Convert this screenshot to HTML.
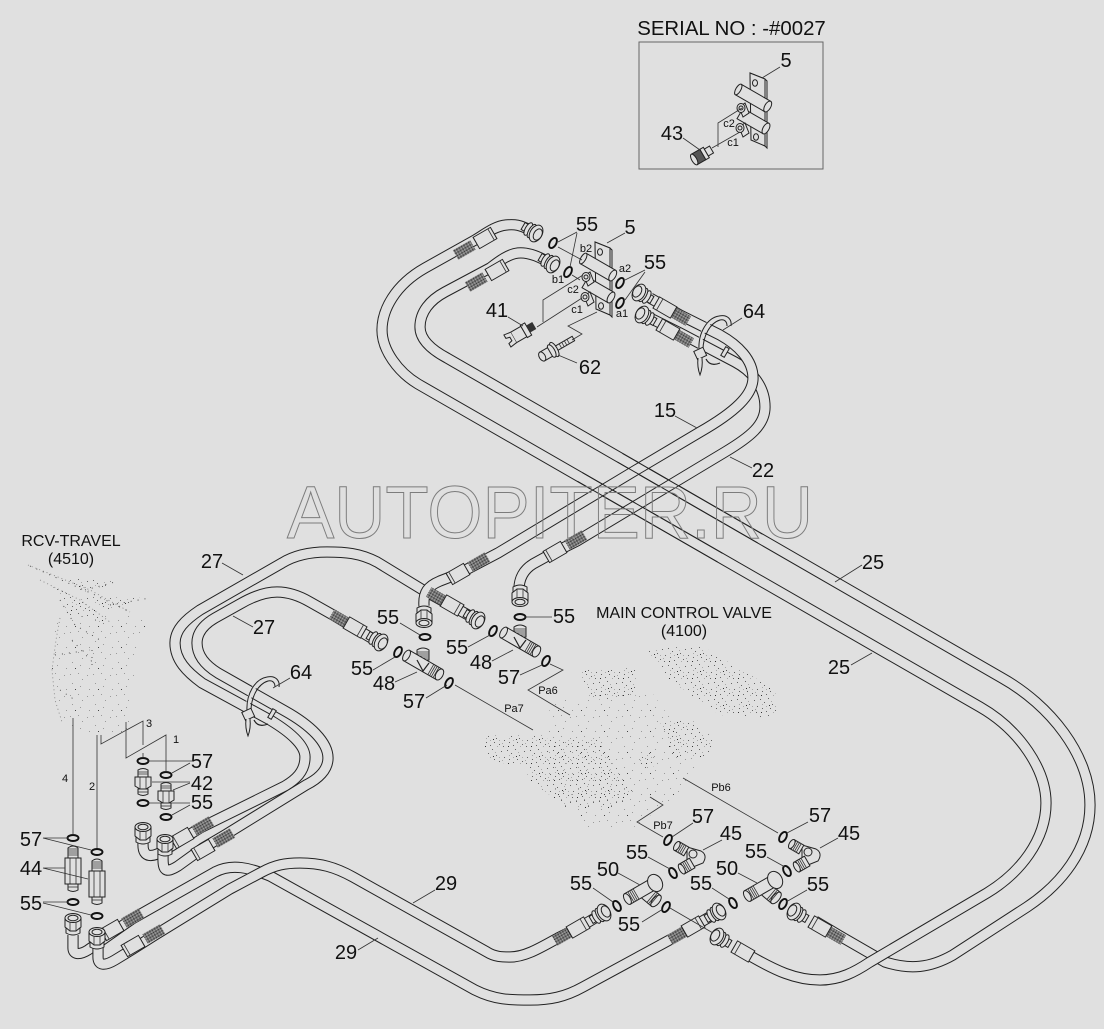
<!DOCTYPE html>
<html><head><meta charset="utf-8"><style>
html,body{margin:0;padding:0;background:#e0e0e0}
svg{display:block}
text{font-family:"Liberation Sans",sans-serif;fill:#111;text-anchor:middle}
.n{font-size:20px}
.s{font-size:11px}
.m{font-size:16px}
.l{fill:none;stroke:#333;stroke-width:.8}
.h1{fill:none;stroke:#222;stroke-width:11.2}
.h2{fill:none;stroke:#e0e0e0;stroke-width:9.2}
.r{fill:none;stroke:#111;stroke-width:1.9}
.p{fill:#e0e0e0;stroke:#222;stroke-width:1}
.d{fill:none;stroke:#888;stroke-width:.9;stroke-dasharray:1 3}
.d2{fill:none;stroke:#444;stroke-width:.9;stroke-dasharray:1 6}
</style></head><body>
<svg width="1104" height="1029" viewBox="0 0 1104 1029" xmlns="http://www.w3.org/2000/svg">
<defs>
<pattern id="kn" width="2" height="2" patternUnits="userSpaceOnUse"><rect width="2" height="2" fill="#bbb"/><rect width="1" height="1" fill="#222"/><rect x="1" y="1" width="1" height="1" fill="#333"/></pattern>
<pattern id="sp" width="23" height="17" patternUnits="userSpaceOnUse">
<g fill="#666"><rect x="1" y="2" width="1" height="1"/><rect x="5" y="5" width="1" height="1"/><rect x="9" y="1" width="1" height="1"/><rect x="13" y="7" width="1" height="1"/><rect x="18" y="3" width="1" height="1"/><rect x="21" y="9" width="1" height="1"/><rect x="3" y="11" width="1" height="1"/><rect x="7" y="14" width="1" height="1"/><rect x="11" y="11" width="1" height="1"/><rect x="16" y="13" width="1" height="1"/><rect x="20" y="15" width="1" height="1"/></g>
<g fill="#aaa"><rect x="3" y="7" width="1" height="1"/><rect x="7" y="9" width="1" height="1"/><rect x="12" y="4" width="1" height="1"/><rect x="16" y="9" width="1" height="1"/><rect x="19" y="12" width="1" height="1"/><rect x="14" y="15" width="1" height="1"/></g>
<g fill="#333"><rect x="10" y="8" width="1" height="1"/><rect x="2" y="15" width="1" height="1"/></g>
</pattern>
<pattern id="sp2" width="23" height="21" patternUnits="userSpaceOnUse">
<g fill="#9a9a9a"><rect x="1" y="2" width="1" height="1"/><rect x="9" y="1" width="1" height="1"/><rect x="13" y="7" width="1" height="1"/><rect x="18" y="3" width="1" height="1"/><rect x="3" y="11" width="1" height="1"/><rect x="11" y="14" width="1" height="1"/><rect x="20" y="17" width="1" height="1"/></g>
<g fill="#444"><rect x="6" y="17" width="1" height="1"/></g>
</pattern>
<g id="fe">
<rect x="-10" y="-6.5" width="20" height="13" class="p"/><line x1="-7" y1="-6.5" x2="-7" y2="6.5" class="l"/>
<rect x="14" y="-5.5" width="20" height="11" fill="url(#kn)"/>
</g>
<g id="ne">
<rect x="-8" y="-4" width="6" height="8" class="p"/>
<ellipse cx="-2" rx="3" ry="7" class="p"/><ellipse cx="2" rx="3" ry="7.5" class="p"/>
<ellipse cx="7" rx="6" ry="9" class="p"/><ellipse cx="9" rx="4" ry="6" class="p" stroke-width="1.4"/>
</g>
<g id="he">
<rect x="-50" y="-5.5" width="17" height="11" fill="url(#kn)"/>
<rect x="-33" y="-6.5" width="20" height="13" class="p"/><line x1="-17" y1="-6.5" x2="-17" y2="6.5" class="l"/>
<use href="#ne"/>
</g>
<g id="he2">
<rect x="-33" y="-6.5" width="20" height="13" class="p"/><line x1="-17" y1="-6.5" x2="-17" y2="6.5" class="l"/>
<use href="#ne"/>
</g>
<g id="hn">
<path d="M-7,5 L-7,10 Q0,14 7,10 L7,5 Z" class="p"/>
<path d="M-8,-5 L-8,4 L-3,8 L3,8 L8,4 L8,-5 Z" class="p"/>
<line x1="-3" y1="-2" x2="-3" y2="8" class="l"/><line x1="3" y1="-2" x2="3" y2="8" class="l"/>
<ellipse cy="-5" rx="8" ry="4.5" class="p"/><ellipse cy="-5" rx="5" ry="2.8" class="p"/>
</g>
<g id="ad44">
<path d="M-5,-22 Q0,-26 5,-22 L5,-12 L-5,-12 Z" class="p"/>
<path d="M-5,-21 H5 M-5,-19 H5 M-5,-17 H5 M-5,-15 H5" class="l"/>
<rect x="-8" y="-12" width="16" height="26" class="p"/><path d="M-3,-12 V14 M3,-12 V14" class="l"/>
<path d="M-5,14 H5 V20 Q0,23 -5,20 Z" class="p"/><path d="M-5,17 H5" class="l"/>
</g>
<g id="ad42">
<path d="M-5,-13 Q0,-16 5,-13 L5,-6 L-5,-6 Z" class="p"/><path d="M-5,-11 H5 M-5,-9 H5" class="l"/>
<path d="M-8,-6 L8,-6 L8,3 L3,6 L-3,6 L-8,3 Z" class="p"/><path d="M-3,-6 V6 M3,-6 V6" class="l"/>
<path d="M-5,6 H5 V11 Q0,14 -5,11 Z" class="p"/><path d="M-5,9 H5" class="l"/>
</g>
<g id="t48">
<path d="M-6,-5 V-15 Q0,-19 6,-15 V-5 Z" class="p"/><path d="M-6,-13 H6 M-6,-11 H6 M-6,-9 H6 M-6,-7 H6" class="l"/>
<g transform="rotate(30)">
<rect x="-19" y="-6" width="38" height="12" class="p"/>
<ellipse cx="-19" rx="3" ry="6" class="p"/><ellipse cx="19" rx="3.5" ry="6" class="p"/>
<path d="M9,-6 V6 M11,-6 V6 M13,-6 V6 M15,-6 V6" class="l"/>
</g>
<path d="M-6,-5 L0,6 L6,-2" fill="#e0e0e0" stroke="#222" stroke-width="1.2"/>
</g>
<g id="t50">
<path transform="rotate(30)" d="M-4,0 H8 M-4,6 H12 V-2" class="l"/>
<g transform="rotate(40) translate(9,0)"><rect x="-6" y="-7" width="14" height="14" class="p"/><ellipse cx="8" rx="3.5" ry="7" class="p"/><path d="M2,-7 V7 M4,-7 V7 M6,-7 V7" class="l"/></g>
<g transform="rotate(-30)">
<rect x="-18" y="-6" width="30" height="12" class="p"/><ellipse cx="-18" rx="3" ry="6" class="p"/>
<path d="M-14,-6 V6 M-12,-6 V6 M-10,-6 V6 M-8,-6 V6" class="l"/>
<ellipse cx="14" rx="7" ry="9" class="p"/>
</g>
</g>
<g id="e45">
<path d="M-8,-10 L6,-6 Q13,-2 8,6 L-2,10 L-8,4 Z" class="p"/>
<ellipse cx="-2" cy="-3" rx="4" ry="4" class="p"/>
<g transform="translate(-13,-8) rotate(30)"><rect x="-6" y="-5" width="11" height="10" class="p"/><path d="M-4,-5 V5 M-2,-5 V5 M0,-5 V5 M2,-5 V5" class="l"/><ellipse cx="-6" rx="2.5" ry="5" class="p"/></g>
<g transform="translate(-8,9) rotate(-30)"><rect x="-6" y="-5.5" width="12" height="11" class="p"/><path d="M-4,-5.5 V5.5 M-2,-5.5 V5.5 M0,-5.5 V5.5 M2,-5.5 V5.5" class="l"/><ellipse cx="-6" rx="2.5" ry="5.5" class="p"/></g>
</g>
<g id="bk">
<path d="M595,242 L610,248 L612,250 L612,317 L610,315 L597,309 Z" class="p"/>
<path d="M595,242 L610,248 L610,315 L596,309 Z" class="p"/>
<ellipse cx="600" cy="252" rx="2.5" ry="3.2" class="p"/><ellipse cx="601" cy="306" rx="2.5" ry="3.2" class="p"/>
<g transform="translate(598,267) rotate(30)"><rect x="-17" y="-6" width="34" height="12" class="p"/><ellipse cx="-17" rx="2.5" ry="6" class="p"/><ellipse cx="17" rx="3" ry="6" class="p"/></g>
<g transform="translate(598,290) rotate(30)"><rect x="-15" y="-6" width="30" height="12" class="p"/><ellipse cx="15" rx="3" ry="6" class="p"/></g>
<path d="M584,276 L590,272 L594,282 L588,286 Z" class="p"/><ellipse cx="586" cy="277" rx="4" ry="4.5" class="p"/><circle cx="586" cy="277" r="2" class="p"/>
<path d="M584,296 L590,292 L594,302 L588,306 Z" class="p"/><ellipse cx="585" cy="297" rx="4" ry="4.5" class="p"/><circle cx="585" cy="297" r="2" class="p"/>
</g>
<g id="cl">
<path d="M0,25 C-1,8 8,-6 20,-8 C28,-9 30,-4 30,0" fill="none" stroke="#e0e0e0" stroke-width="4"/>
<path d="M-1,25 C-2,8 7,-7 19,-9 C28,-11 32,-5 31,1 M3,25 C3,11 10,-2 20,-5 C25,-6 27,-3 27,1" fill="none" stroke="#222" stroke-width="1"/>
<rect x="-5" y="24" width="10" height="9" class="p" transform="rotate(-25 0 28)"/>
<path d="M-2,33 Q-3,42 0,50 Q3,42 2,33" class="p"/>
<path d="M6,34 Q10,42 20,38" fill="none" stroke="#222" stroke-width="1.2"/>
</g>
</defs>
<rect width="1104" height="1029" fill="#e0e0e0"/>

<!-- ghost parts: RCV -->
<g fill="url(#sp2)">
<path d="M55,620 L100,612 L148,617 L135,660 L130,730 L85,738 L60,715 L52,670 Z"/>
</g>
<g fill="url(#sp)">
<path d="M67,578 L120,582 L83,592 Z"/><path d="M83,597 L148,598 L107,610 Z"/>
<path d="M50,585 L85,600 L110,625 L70,615 Z"/>
</g>
<path class="d" d="M28,565 L90,590 L130,612 M40,580 L80,600 L110,622 M60,618 L56,640 L52,670 L55,700 L62,722"/>
<path class="d2" d="M30,566 L95,595 L130,612 M85,590 L115,582 M110,605 L150,598 M60,600 L75,625 L100,640 M72,640 L95,665 M55,655 L90,650 M60,690 L75,700 M92,650 L92,670"/>
<!-- ghost parts: MCV -->
<g fill="url(#sp)">
<path d="M580,670 L637,668 L637,697 L590,700 Z"/>
<path d="M647,650 L700,645 L775,690 L777,718 L720,715 L670,680 Z"/>
<path d="M660,722 L690,718 L715,740 L712,757 L672,757 Z"/>
<path d="M480,735 L545,735 L547,773 L490,760 Z"/>
<path d="M513,740 L600,740 L632,790 L620,807 L565,807 L530,780 Z"/>
<path d="M637,752 L655,752 L653,768 L640,768 Z"/>
<path d="M563,780 L615,780 L613,808 L570,808 Z"/>
</g>
<g fill="url(#sp2)">
<path d="M550,700 L650,690 L700,760 L685,790 L630,830 L590,830 L545,790 Z"/>
</g>

<!-- hoses -->
<path class="h1" d="M73,935 L73,948 C73,955 80,955 88,950 L112,933 L132,919 L215,872 C232,863 250,868 270,876 L475,990 C495,1000 510,1000 530,1000 C550,1000 565,997 583,987 L675,937 L713,915"/>
<path class="h2" d="M73,935 L73,948 C73,955 80,955 88,950 L112,933 L132,919 L215,872 C232,863 250,868 270,876 L475,990 C495,1000 510,1000 530,1000 C550,1000 565,997 583,987 L675,937 L713,915"/>
<path class="h1" d="M98,945 L98,957 C98,966 105,966 115,960 L133,949 L155,935 L230,889 L262,872 C275,865 285,863 300,863 C320,863 335,867 353,877 L487,952 C495,957 502,957 510,957 C525,957 540,948 558,938 L580,927 L600,915"/>
<path class="h2" d="M98,945 L98,957 C98,966 105,966 115,960 L133,949 L155,935 L230,889 L262,872 C275,865 285,863 300,863 C320,863 335,867 353,877 L487,952 C495,957 502,957 510,957 C525,957 540,948 558,938 L580,927 L600,915"/>

<path class="h1" d="M470,616 L423,590 L377,562 C360,553 345,552 327,552 C310,552 295,555 282,563 L200,610 C185,620 175,630 175,643 C175,660 187,672 202,683 L270,720 C290,732 305,745 305,757 C305,772 295,780 285,786 L200,828 L165,850 C152,858 143,858 143,845 L143,835"/>
<path class="h2" d="M470,616 L423,590 L377,562 C360,553 345,552 327,552 C310,552 295,555 282,563 L200,610 C185,620 175,630 175,643 C175,660 187,672 202,683 L270,720 C290,732 305,745 305,757 C305,772 295,780 285,786 L200,828 L165,850 C152,858 143,858 143,845 L143,835"/>
<path class="h1" d="M378,642 L333,615 L310,602 C298,595 288,592 277,592 C265,592 252,597 240,604 L215,618 C203,625 197,633 197,643 C197,655 205,665 218,673 L285,711 C310,725 328,742 328,758 C328,770 318,779 306,785 L225,835 L203,848 L178,866 C165,874 163,870 163,858 L163,850"/>
<path class="h2" d="M378,642 L333,615 L310,602 C298,595 288,592 277,592 C265,592 252,597 240,604 L215,618 C203,625 197,633 197,643 C197,655 205,665 218,673 L285,711 C310,725 328,742 328,758 C328,770 318,779 306,785 L225,835 L203,848 L178,866 C165,874 163,870 163,858 L163,850"/>

<path class="h1" d="M550,263 C540,257 528,252 518,253 C508,254 498,262 490,268 L445,292 C430,300 420,312 420,327 C420,340 432,350 447,358 L1002,678 C1050,705 1090,755 1090,805 C1090,850 1060,885 1027,907 L953,955 C930,968 910,970 885,962 L840,936 L815,921"/>
<path class="h2" d="M550,263 C540,257 528,252 518,253 C508,254 498,262 490,268 L445,292 C430,300 420,312 420,327 C420,340 432,350 447,358 L1002,678 C1050,705 1090,755 1090,805 C1090,850 1060,885 1027,907 L953,955 C930,968 910,970 885,962 L840,936 L815,921"/>
<path class="h1" d="M530,230 C520,225 515,224 506,225 C495,226 485,234 475,240 L425,268 C395,285 382,310 382,330 C382,350 398,372 418,384 L980,707 C1020,730 1046,770 1046,803 C1046,840 1020,873 987,893 L870,962 C855,972 840,980 820,980 C795,980 775,970 752,957 L735,947"/>
<path class="h2" d="M530,230 C520,225 515,224 506,225 C495,226 485,234 475,240 L425,268 C395,285 382,310 382,330 C382,350 398,372 418,384 L980,707 C1020,730 1046,770 1046,803 C1046,840 1020,873 987,893 L870,962 C855,972 840,980 820,980 C795,980 775,970 752,957 L735,947"/>

<path class="h1" d="M520,600 C517,585 520,572 533,564 L553,553 L577,541 L695,470 L725,452 C750,437 765,425 765,407 C765,385 750,370 735,362 L680,333 L650,318"/>
<path class="h2" d="M520,600 C517,585 520,572 533,564 L553,553 L577,541 L695,470 L725,452 C750,437 765,425 765,407 C765,385 750,370 735,362 L680,333 L650,318"/>
<path class="h1" d="M424,606 C423,592 428,586 440,581 L458,574 L498,553 L636,470 L700,432 C735,412 753,395 753,378 C753,360 738,345 720,335 L680,315 L650,298"/>
<path class="h2" d="M424,606 C423,592 428,586 440,581 L458,574 L498,553 L636,470 L700,432 C735,412 753,395 753,378 C753,360 738,345 720,335 L680,315 L650,298"/>
<!-- see-through crossing edges -->
<path d="M582.5,472.7 L722.5,553.3 M577.5,481.3 L717.5,561.9 M622.5,453.4 L762.5,534.2 M617.5,462 L757.5,542.8" fill="none" stroke="#222" stroke-width="1"/>

<!-- hose ends -->
<use href="#fe" transform="translate(485,238) rotate(150)"/>
<use href="#fe" transform="translate(497,270) rotate(150)"/>
<use href="#ne" transform="translate(530,230) rotate(30)"/>
<use href="#ne" transform="translate(547,261) rotate(30)"/>
<use href="#he" transform="translate(645,296) rotate(210)"/>
<use href="#he" transform="translate(648,318) rotate(210)"/>
<use href="#he" transform="translate(472,617) rotate(30)"/>
<use href="#he" transform="translate(375,639) rotate(30)"/>
<use href="#he" transform="translate(598,916) rotate(-30)"/>
<use href="#he" transform="translate(713,915) rotate(-30)"/>
<use href="#he" transform="translate(800,915) rotate(210)"/>
<use href="#he2" transform="translate(723,940) rotate(210)"/>
<use href="#fe" transform="translate(458,574) rotate(-30)"/>
<use href="#fe" transform="translate(555,552) rotate(-30)"/>
<use href="#fe" transform="translate(182,838) rotate(-30)"/>
<use href="#fe" transform="translate(203,850) rotate(-30)"/>
<use href="#fe" transform="translate(112,930) rotate(-30)"/>
<use href="#fe" transform="translate(133,946) rotate(-30)"/>
<use href="#hn" transform="translate(143,832)"/>
<use href="#hn" transform="translate(165,844)"/>
<use href="#hn" transform="translate(73,923)"/>
<use href="#hn" transform="translate(97,937)"/>
<use href="#hn" transform="translate(424,618) scale(1,-1)"/>
<use href="#hn" transform="translate(520,597) scale(1,-1)"/>

<!-- clamps -->
<use href="#cl" transform="translate(700,325)"/>
<use href="#cl" transform="translate(248,686)"/>
<rect x="-2" y="-5" width="4" height="10" class="p" transform="translate(725,352) rotate(30)"/>
<rect x="-2" y="-5" width="4" height="10" class="p" transform="translate(272,714) rotate(30)"/>

<!-- blocks -->
<use href="#bk"/>
<use href="#bk" transform="translate(155,-169)"/>

<!-- sensors, bolt -->
<g transform="translate(523,332) rotate(-30)">
<rect x="-11" y="-6" width="12" height="12" class="p"/><rect x="1" y="-7" width="5" height="14" class="p"/><rect x="6" y="-4" width="7" height="8" fill="#333"/>
<path d="M-11,-6 L-18,-7 V-3 L-14,-2 V2 L-18,3 V7 L-11,6" class="p"/>
</g>
<g transform="translate(702,155) rotate(-30)">
<rect x="-9" y="-6" width="10" height="12" fill="#555" stroke="#222"/><rect x="1" y="-6" width="4" height="12" class="p"/><rect x="5" y="-4" width="6" height="8" class="p"/><ellipse cx="-9" rx="2.5" ry="6" class="p"/>
</g>
<g transform="translate(550,352) rotate(-30)">
<rect x="5" y="-2.5" width="22" height="5" class="p"/><path d="M12,-2.5 V2.5 M15,-2.5 V2.5 M18,-2.5 V2.5 M21,-2.5 V2.5" class="l"/>
<ellipse cx="5" rx="3" ry="8" class="p"/><ellipse cx="2" rx="3" ry="7" class="p"/>
<rect x="-9" y="-5" width="9" height="10" class="p"/><ellipse cx="-9" rx="3" ry="5" class="p"/>
</g>

<!-- adapters -->
<use href="#ad44" transform="translate(73,870)"/>
<use href="#ad44" transform="translate(97,883)"/>
<use href="#ad42" transform="translate(143,783)"/>
<use href="#ad42" transform="translate(166,797)"/>
<use href="#t48" transform="translate(423,665)"/>
<use href="#t48" transform="translate(520,642)"/>
<use href="#t50" transform="translate(643,890)"/>
<use href="#t50" transform="translate(763,887)"/>
<use href="#e45" transform="translate(695,857)"/>
<use href="#e45" transform="translate(810,855)"/>

<!-- o-rings -->
<g class="r">
<ellipse rx="3.2" ry="5.5" transform="translate(553,243) rotate(30)"/>
<ellipse rx="3.2" ry="5.5" transform="translate(568,272) rotate(30)"/>
<ellipse rx="3.2" ry="5.5" transform="translate(620,283) rotate(30)"/>
<ellipse rx="3.2" ry="5.5" transform="translate(620,303) rotate(30)"/>
<ellipse rx="3.2" ry="5.5" transform="translate(398,652) rotate(30)"/>
<ellipse rx="3.2" ry="5.5" transform="translate(493,631) rotate(30)"/>
<ellipse rx="3.2" ry="5.5" transform="translate(449,683) rotate(30)"/>
<ellipse rx="3.2" ry="5.5" transform="translate(546,661) rotate(30)"/>
<ellipse rx="3.2" ry="5.5" transform="translate(668,840) rotate(30)"/>
<ellipse rx="3.2" ry="5.5" transform="translate(783,837) rotate(30)"/>
<ellipse rx="3.2" ry="5.5" transform="translate(673,873) rotate(-30)"/>
<ellipse rx="3.2" ry="5.5" transform="translate(787,871) rotate(-30)"/>
<ellipse rx="3.2" ry="5.5" transform="translate(617,906) rotate(-30)"/>
<ellipse rx="3.2" ry="5.5" transform="translate(666,907) rotate(30)"/>
<ellipse rx="3.2" ry="5.5" transform="translate(733,903) rotate(-30)"/>
<ellipse rx="3.2" ry="5.5" transform="translate(783,904) rotate(30)"/>
<ellipse cx="425" cy="637" rx="5.5" ry="3"/><ellipse cx="520" cy="617" rx="5.5" ry="3"/>
<ellipse cx="143" cy="761" rx="5.5" ry="3"/><ellipse cx="166" cy="775" rx="5.5" ry="3"/>
<ellipse cx="143" cy="803" rx="5.5" ry="3"/><ellipse cx="166" cy="817" rx="5.5" ry="3"/>
<ellipse cx="73" cy="838" rx="5.5" ry="3"/><ellipse cx="97" cy="852" rx="5.5" ry="3"/>
<ellipse cx="73" cy="902" rx="5.5" ry="3"/><ellipse cx="97" cy="916" rx="5.5" ry="3"/>
</g>

<!-- inset box -->
<rect x="639" y="42" width="184" height="127" fill="none" stroke="#666" stroke-width="1"/>

<!-- leaders -->
<path class="l" d="M780,67 L762,78 M683,138 L700,150 M742,108 L718,123 L718,147 M740,132 L712,148
M625,233 L607,243 M577,232 L558,242 M577,233 L570,267 M558,247 L582,260 M572,275 L580,280 M645,270 L625,280 M645,272 L625,300
M508,317 L523,326 M583,275 L543,300 L543,322 M582,298 L537,327 M597,312 L568,326 L582,334 L572,340 M577,363 L558,355 M742,318 L723,330 M675,416 L697,428 M752,468 L730,457 M862,565 L835,582 M851,665 L872,653
M222,563 L243,575 M233,616 L253,627 M290,678 L273,688
M400,623 L420,635 M373,670 L395,657 M395,682 L417,672 M426,698 L447,685 M468,647 L490,635 M492,661 L513,650 M520,675 L542,665 M525,617 L552,617
M455,685 L533,730 M550,664 L563,670 L528,690 L553,705 L570,715 M683,778 L778,833 M650,797 L663,805 L637,822 L663,837
M672,837 L693,823 M703,850 L722,840 M787,833 L808,822 M820,848 L838,838 M648,857 L670,869 M618,873 L640,885 M767,857 L785,867 M738,873 L757,883 M593,888 L613,902 M712,888 L729,899 M807,890 L786,902 M642,922 L663,909 M670,908 L713,933
M435,890 L413,903 M358,950 L378,938
M73,718 V835 M97,735 V848 M101,735 V744 L143,721 V745 M126,722 V758 L166,735 V772 M143,753 V758
M192,761 H148 M190,763 L172,773 M190,782 H152 M190,783 L173,790 M190,803 H148 M190,805 L172,815
M43,838 H68 M43,838 L91,850 M43,868 H65 M43,868 L88,879 M43,902 H68 M43,903 L91,915"/>

<!-- watermark -->
<text x="287" y="538" font-size="74" textLength="526" lengthAdjust="spacingAndGlyphs" style="text-anchor:start;fill:none;stroke:#7c7c7c;stroke-width:1">AUTOPITER.RU</text>

<!-- labels -->
<text x="731.5" y="35" font-size="20.4">SERIAL NO : -#0027</text>
<g class="n">
<text x="786" y="67">5</text><text x="672" y="140">43</text>
<text x="630" y="234">5</text><text x="587" y="231">55</text><text x="655" y="269">55</text>
<text x="497" y="317">41</text><text x="590" y="374">62</text><text x="754" y="318">64</text>
<text x="665" y="417">15</text><text x="763" y="477">22</text>
<text x="873" y="569">25</text><text x="839" y="674">25</text>
<text x="212" y="568">27</text><text x="264" y="634">27</text><text x="301" y="679">64</text>
<text x="388" y="624">55</text><text x="457" y="654">55</text><text x="362" y="675">55</text>
<text x="384" y="690">48</text><text x="481" y="669">48</text><text x="414" y="708">57</text><text x="509" y="684">57</text><text x="564" y="623">55</text>
<text x="703" y="823">57</text><text x="731" y="840">45</text><text x="820" y="822">57</text><text x="849" y="840">45</text>
<text x="637" y="859">55</text><text x="608" y="876">50</text><text x="756" y="858">55</text><text x="727" y="875">50</text>
<text x="581" y="890">55</text><text x="701" y="890">55</text><text x="818" y="891">55</text><text x="629" y="931">55</text>
<text x="446" y="890">29</text><text x="346" y="959">29</text>
<text x="202" y="768">57</text><text x="202" y="790">42</text><text x="202" y="809">55</text>
<text x="31" y="846">57</text><text x="31" y="875">44</text><text x="31" y="910">55</text>
</g>
<g class="s">
<text x="729" y="127">c2</text><text x="733" y="146">c1</text>
<text x="586" y="252">b2</text><text x="625" y="272">a2</text><text x="558" y="283">b1</text><text x="573" y="293">c2</text><text x="577" y="313">c1</text><text x="622" y="317">a1</text>
<text x="548" y="694">Pa6</text><text x="514" y="712">Pa7</text><text x="721" y="791">Pb6</text><text x="663" y="829">Pb7</text>
<text x="65" y="782">4</text><text x="92" y="790">2</text><text x="149" y="727">3</text><text x="176" y="743">1</text>
</g>
<g class="m">
<text x="684" y="618">MAIN CONTROL VALVE</text><text x="684" y="636">(4100)</text>
<text x="71" y="546">RCV-TRAVEL</text><text x="71" y="564">(4510)</text>
</g>
</svg>
</body></html>
